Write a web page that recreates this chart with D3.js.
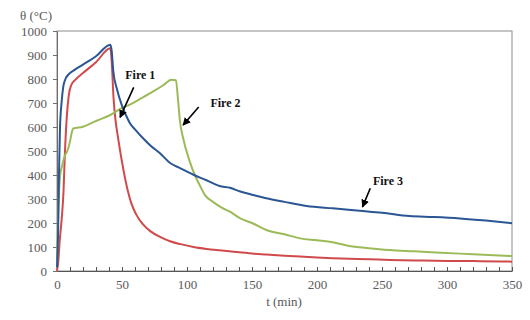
<!DOCTYPE html>
<html>
<head>
<meta charset="utf-8">
<script src="https://cdn.jsdelivr.net/npm/d3@7"></script>
<style>
  body { margin: 0; background: #fff; }
  svg { display: block; }
  svg text { font-family: "Liberation Serif", "Times New Roman", serif; }
</style>
</head>
<body>
<svg id="chart" width="530" height="320"></svg>
<script>
// Fire 1 (red)
const fire1T = [0, 1, 2, 3.5, 5, 6, 7.5, 9, 11, 14, 20, 30, 41, 42, 43.5, 45, 47, 50, 54, 57, 61, 66, 72, 80, 87, 95, 105, 115, 125, 136, 150, 161, 175, 187, 200, 212, 225, 240, 256, 275, 300, 325, 350];
const fire1V = [0, 40, 120, 210, 330, 480, 640, 730, 775, 796, 825, 870, 928, 880, 720, 630, 554, 455, 345, 285, 235, 195, 165, 140, 124, 112, 100, 92, 86, 80, 73, 69, 64, 60, 56, 53, 51, 49, 46, 44, 42, 41, 39];

// Fire 2 (green)
const fire2T = [0, 1, 2.3, 4, 6, 8, 10, 11.5, 12.5, 20, 30, 41, 50, 56, 65, 74, 82, 88, 91.5, 93, 94.6, 97, 102, 106, 110, 114, 120, 127, 133, 141, 150, 161, 175, 187, 200, 212, 225, 233, 256, 275, 295, 320, 350];
const fire2V = [46, 250, 393, 440, 480, 500, 540, 580, 594, 601, 625, 650, 680, 693, 720, 748, 775, 797, 795, 720, 624, 554, 458, 400, 355, 315, 288, 263, 247, 219, 200, 171, 153, 136, 128, 120, 104, 99, 87, 82, 76, 70, 62];

// Fire 3 (blue)
const fire3T = [0, 0.8, 1.5, 2.3, 3.5, 4.9, 6.5, 8.7, 13.8, 20, 30, 41, 42, 43.3, 46, 49.7, 53, 56, 60, 66, 72, 79, 87, 95, 105, 115, 125, 133, 141, 150, 161, 175, 192, 212, 233, 250, 271, 290, 310, 330, 350];
const fire3V = [15, 150, 400, 596, 700, 770, 800, 818, 839, 860, 895, 943, 920, 833, 760, 693, 650, 617, 590, 554, 522, 492, 450, 428, 401, 378, 354, 347, 331, 318, 303, 288, 271, 261, 251, 243, 229, 225, 219, 210, 199];

const xTicks = [0, 50, 100, 150, 200, 250, 300, 350];
const yTicks = [0, 100, 200, 300, 400, 500, 600, 700, 800, 900, 1000];

// annotation labels: text at (t, θ), arrow from (t, θ) to (t, θ)
const notes = [
  { label: 'Fire 1', at: [52.5, 800], from: [59, 765], to: [48.5, 640] },
  { label: 'Fire 2', at: [118, 683], from: [109, 683], to: [97, 608] },
  { label: 'Fire 3', at: [243, 360], from: [241, 345], to: [235, 267] }
];

const series = [
  { t: fire1T, v: fire1V, color: '#d04a4c' },
  { t: fire2T, v: fire2V, color: '#9bbb59' },
  { t: fire3T, v: fire3V, color: '#2b5694' }
];

const width = 530, height = 320;
const margin = { top: 31, right: 18, bottom: 49, left: 57 };

const svg = d3.select('#chart');
const x = d3.scaleLinear().domain([0, 350]).range([margin.left, width - margin.right]);
const y = d3.scaleLinear().domain([0, 1000]).range([height - margin.bottom, margin.top]);

// frame
svg.append('rect')
  .attr('x', x(0)).attr('y', y(1000))
  .attr('width', x(350) - x(0)).attr('height', y(0) - y(1000))
  .style('fill', 'none').style('stroke', '#8c8c8c').style('stroke-width', 1);

// y axis
const yAxis = svg.append('g')
  .attr('transform', `translate(${x(0)},0)`)
  .call(d3.axisLeft(y).tickValues(yTicks).tickFormat(d3.format('d')).tickSize(4).tickSizeOuter(0).tickPadding(6));
yAxis.attr('font-family', null);
yAxis.select('.domain').style('stroke', '#6e6e6e');
yAxis.selectAll('line').style('stroke', '#6e6e6e');
yAxis.selectAll('text').style('font-size', '13px').style('fill', '#595959');

// x axis minor ticks (inward)
svg.append('g')
  .attr('transform', `translate(0,${y(0)})`)
  .call(d3.axisBottom(x).tickValues(d3.range(0, 351, 10)).tickSize(-4).tickSizeOuter(0).tickFormat(''))
  .call(g => g.select('.domain').remove())
  .selectAll('line').style('stroke', '#555');

const xAxis = svg.append('g')
  .attr('transform', `translate(0,${y(0)})`)
  .call(d3.axisBottom(x).tickValues(xTicks).tickFormat(d3.format('d')).tickSize(0).tickSizeOuter(0).tickPadding(9));
xAxis.attr('font-family', null);
xAxis.select('.domain').style('stroke', '#555').style('stroke-width', 1.2);
xAxis.selectAll('text').style('font-size', '13px').style('fill', '#595959');

// axis titles
svg.append('text')
  .attr('x', 20).attr('y', 20)
  .style('font-size', '13px').style('fill', '#595959')
  .text('θ (°C)');
svg.append('text')
  .attr('x', 284).attr('y', 306)
  .attr('text-anchor', 'middle')
  .style('font-size', '13px').style('fill', '#595959')
  .text('t (min)');

// curves
const line = d3.line()
  .x(d => x(d[0]))
  .y(d => y(d[1]))
  .curve(d3.curveMonotoneX);

const plot = svg.append('g');
series.forEach(s => {
  const pts = s.t.map((t, i) => [t, s.v[i]]);
  plot.append('path')
    .attr('d', line(pts))
    .style('fill', 'none')
    .style('stroke', s.color)
    .style('stroke-width', 2)
    .style('stroke-linejoin', 'round');
});

// arrows
svg.append('defs').append('marker')
  .attr('id', 'arrow')
  .attr('viewBox', '0 0 10 10')
  .attr('refX', 9).attr('refY', 5)
  .attr('markerWidth', 5).attr('markerHeight', 5)
  .attr('orient', 'auto')
  .append('path').attr('d', 'M0,0 L10,5 L0,10 z').style('fill', '#000');

const gNotes = svg.append('g');
notes.forEach(n => {
  gNotes.append('line')
    .attr('x1', x(n.from[0])).attr('y1', y(n.from[1]))
    .attr('x2', x(n.to[0])).attr('y2', y(n.to[1]))
    .style('stroke', '#000').style('stroke-width', 1.6)
    .attr('marker-end', 'url(#arrow)');
  gNotes.append('text')
    .attr('x', x(n.at[0])).attr('y', y(n.at[1]))
    .style('font-size', '12px').style('font-weight', 'bold').style('fill', '#111')
    .text(n.label);
});
</script>
</body>
</html>
